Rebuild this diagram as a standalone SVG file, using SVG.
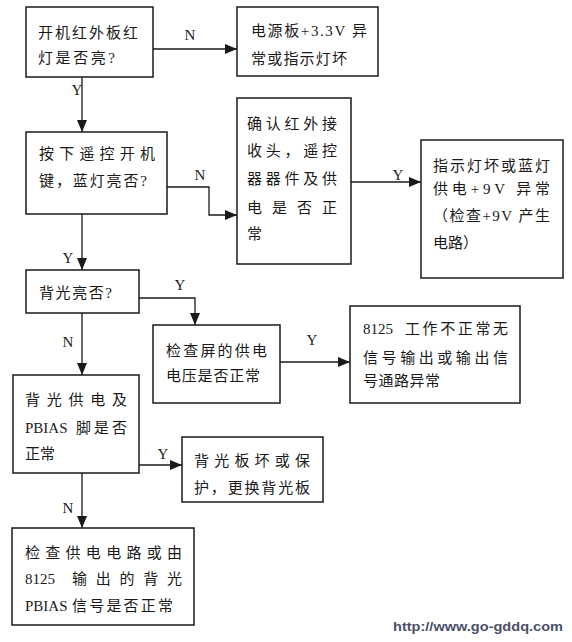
<svg xmlns="http://www.w3.org/2000/svg" width="572" height="642" viewBox="0 0 572 642">
<style>
.box{fill:#fff;stroke:#1a1a1a;stroke-width:1.5}
.t{font-family:"Liberation Serif","Noto Sans CJK SC",serif;font-size:15px;fill:#1a1a1a}
.lb{font-family:"Liberation Serif",serif;font-size:15px;fill:#1a1a1a;text-anchor:middle}
.c{fill:none;stroke:#1a1a1a;stroke-width:1.3}
.url{font-family:"Liberation Sans",sans-serif;font-weight:bold;font-size:13px;fill:#4b4f68}
</style>
<defs>
<marker id="ah" markerUnits="userSpaceOnUse" markerWidth="12" markerHeight="12" refX="12" refY="6" orient="auto">
<path d="M0,1 L12,6 L0,11 Z" fill="#1a1a1a"/>
</marker>
</defs>
<rect width="572" height="642" fill="#fff"/>
<g id="connectors">
<path class="c" d="M153,49 H237" marker-end="url(#ah)"/>
<path class="c" d="M82,77 V132" marker-end="url(#ah)"/>
<path class="c" d="M167,187 H209 V215 H237" marker-end="url(#ah)"/>
<path class="c" d="M82,214 V270" marker-end="url(#ah)"/>
<path class="c" d="M351,182 H421" marker-end="url(#ah)"/>
<path class="c" d="M139,298 H195 V325" marker-end="url(#ah)"/>
<path class="c" d="M82,313 V375" marker-end="url(#ah)"/>
<path class="c" d="M280,362 H350" marker-end="url(#ah)"/>
<path class="c" d="M139,465 H182" marker-end="url(#ah)"/>
<path class="c" d="M82,473 V528" marker-end="url(#ah)"/>
<text class="lb" x="190" y="40">N</text>
<text class="lb" x="77" y="95">Y</text>
<text class="lb" x="200" y="180">N</text>
<text class="lb" x="68" y="263">Y</text>
<text class="lb" x="398" y="180">Y</text>
<text class="lb" x="180" y="290">Y</text>
<text class="lb" x="68" y="347">N</text>
<text class="lb" x="312" y="345">Y</text>
<text class="lb" x="163" y="459">Y</text>
<text class="lb" x="68" y="513">N</text>
</g>
<g id="n1">
<rect class="box" x="26" y="7" width="127" height="70"/>
<text class="t" x="38" y="37.5" textLength="100" lengthAdjust="spacing">开机红外板红</text>
<text class="t" x="38" y="62.5" textLength="77" lengthAdjust="spacing">灯是否亮?</text>
</g>
<g id="n2">
<rect class="box" x="237" y="7" width="141" height="69"/>
<text class="t" x="251" y="35.5" textLength="116" lengthAdjust="spacing">电源板+3.3V 异</text>
<text class="t" x="251" y="63.5" textLength="96" lengthAdjust="spacing">常或指示灯坏</text>
</g>
<g id="n3">
<rect class="box" x="26" y="132" width="141" height="82"/>
<text class="t" x="39" y="158.5" textLength="116" lengthAdjust="spacing">按下遥控开机</text>
<text class="t" x="39" y="185.5" textLength="108" lengthAdjust="spacing">键，蓝灯亮否?</text>
</g>
<g id="n4">
<rect class="box" x="237" y="98" width="114" height="166"/>
<text class="t" x="247" y="128.5" textLength="90" lengthAdjust="spacing">确认红外接</text>
<text class="t" x="247" y="155.5" textLength="90" lengthAdjust="spacing">收头，遥控</text>
<text class="t" x="247" y="183.5" textLength="90" lengthAdjust="spacing">器器件及供</text>
<text class="t" x="247" y="212.5" textLength="90" lengthAdjust="spacing">电是否正</text>
<text class="t" x="247" y="238.5">常</text>
</g>
<g id="n5">
<rect class="box" x="421" y="140" width="142" height="138"/>
<text class="t" x="433" y="170.5" textLength="117" lengthAdjust="spacing">指示灯坏或蓝灯</text>
<text class="t" x="433" y="193.5" textLength="117" lengthAdjust="spacing">供电+9V 异常</text>
<text class="t" x="433" y="220.5" textLength="117" lengthAdjust="spacing">（检查+9V 产生</text>
<text class="t" x="433" y="247.5">电路）</text>
</g>
<g id="n6">
<rect class="box" x="26" y="270" width="113" height="43"/>
<text class="t" x="39" y="297.5" textLength="73" lengthAdjust="spacing">背光亮否?</text>
</g>
<g id="n7">
<rect class="box" x="153" y="325" width="127" height="78"/>
<text class="t" x="166" y="355.5" textLength="101" lengthAdjust="spacing">检查屏的供电</text>
<text class="t" x="166" y="380.5" textLength="94" lengthAdjust="spacing">电压是否正常</text>
</g>
<g id="n9">
<rect class="box" x="350" y="306" width="170" height="97"/>
<text class="t" y="333.5"><tspan x="363">8125</tspan><tspan x="405" textLength="103" lengthAdjust="spacing">工作不正常无</tspan></text>
<text class="t" x="363" y="362.5" textLength="145" lengthAdjust="spacing">信号输出或输出信</text>
<text class="t" x="363" y="385.5" textLength="77" lengthAdjust="spacing">号通路异常</text>
</g>
<g id="n8">
<rect class="box" x="13" y="375" width="126" height="98"/>
<text class="t" x="25" y="404.5" textLength="102" lengthAdjust="spacing">背光供电及</text>
<text class="t" y="432.5"><tspan x="25">PBIAS</tspan><tspan x="76" textLength="51" lengthAdjust="spacing">脚是否</tspan></text>
<text class="t" x="25" y="458.5" textLength="30" lengthAdjust="spacing">正常</text>
</g>
<g id="n10">
<rect class="box" x="182" y="437" width="141" height="65"/>
<text class="t" x="194" y="465.5" textLength="116" lengthAdjust="spacing">背光板坏或保</text>
<text class="t" x="194" y="492.5" textLength="116" lengthAdjust="spacing">护，更换背光板</text>
</g>
<g id="n11">
<rect class="box" x="12" y="528" width="182" height="97"/>
<text class="t" x="25" y="557.5" textLength="157" lengthAdjust="spacing">检查供电电路或由</text>
<text class="t" y="583.5"><tspan x="25">8125</tspan><tspan x="72" textLength="110" lengthAdjust="spacing">输出的背光</tspan></text>
<text class="t" y="610.5"><tspan x="25">PBIAS</tspan><tspan x="72" textLength="101" lengthAdjust="spacing">信号是否正常</tspan></text>
</g>
<text class="url" x="393" y="631" textLength="170" lengthAdjust="spacingAndGlyphs">http://www.go-gddq.com</text>
</svg>
